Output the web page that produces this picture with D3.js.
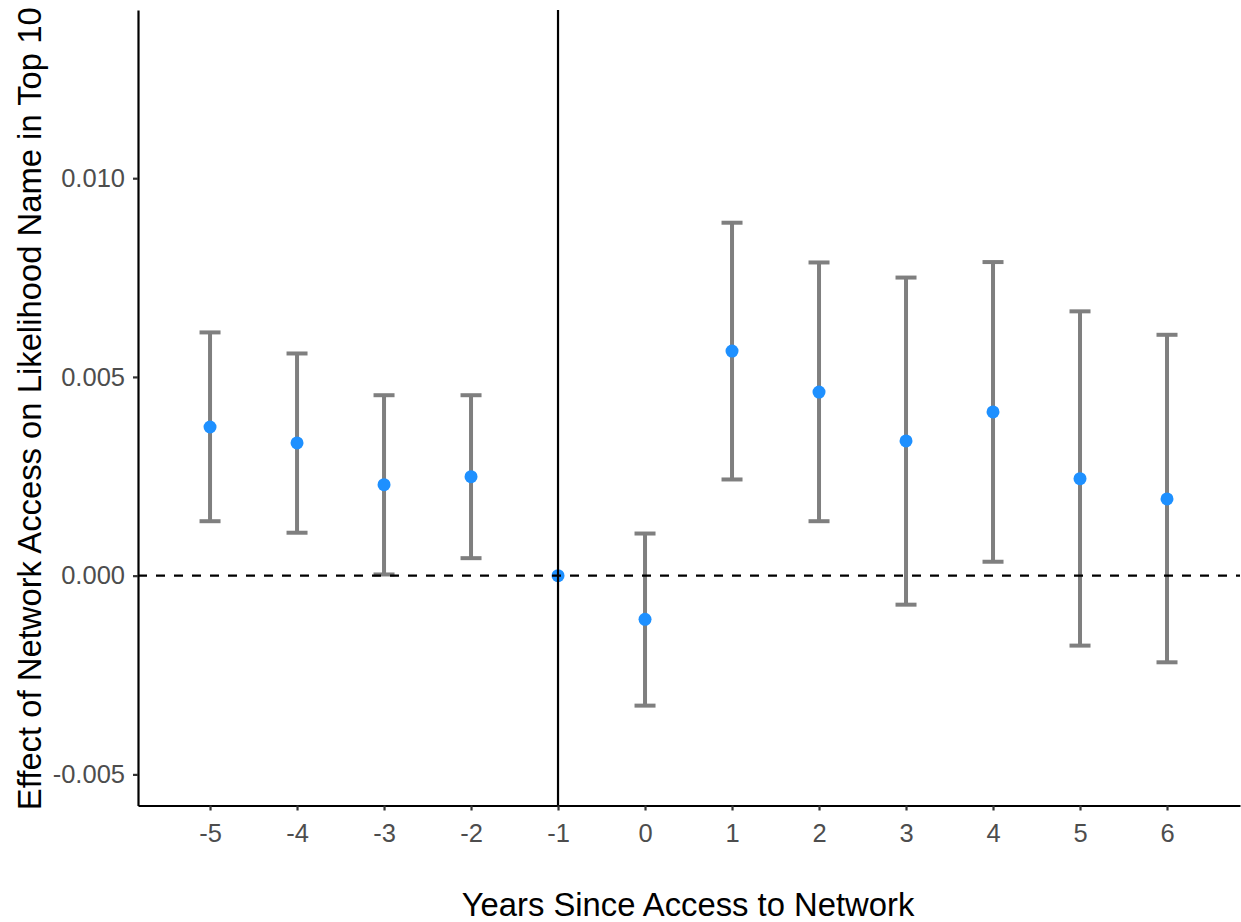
<!DOCTYPE html>
<html>
<head>
<meta charset="utf-8">
<script src="https://cdn.jsdelivr.net/npm/d3@7"></script>
<style>
  html, body { margin: 0; padding: 0; background: #ffffff; }
  svg { display: block; font-family: "Liberation Sans", Arial, Helvetica, sans-serif; }
</style>
</head>
<body>
<svg id="chart" width="1241" height="922"></svg>
<script>
// ---- data ----
const years = [-5, -4, -3, -2, -1, 0, 1, 2, 3, 4, 5, 6];
const estimates = [0.00374, 0.00334, 0.00229, 0.00249, 0, -0.00110, 0.00565, 0.00462, 0.00339, 0.00412, 0.00244, 0.00193];
const lower = [0.00137, 0.00108, 0.00003, 0.00044, 0, -0.00327, 0.00242, 0.00137, -0.00073, 0.00035, -0.00176, -0.00218];
const upper = [0.00612, 0.00559, 0.00454, 0.00454, 0, 0.00106, 0.00888, 0.00788, 0.00750, 0.00789, 0.00665, 0.00606];
const yTickValues = [-0.005, 0, 0.005, 0.010];
const yTickLabels = ["-0.005", "0.000", "0.005", "0.010"];
const xTickValues = years;
const xTickLabels = ["-5", "-4", "-3", "-2", "-1", "0", "1", "2", "3", "4", "5", "6"];
const xTitle = "Years Since Access to Network";
const yTitle = "Effect of Network Access on Likelihood Name in Top 10";
const eventYear = -1;

// ---- layout ----
const svg = d3.select("#chart");
const L = 138, R = 1240, T = 10, B = 805.5;

const x = d3.scaleLinear().domain([-5.828, 6.839]).range([L, R]);
const y = d3.scaleLinear().domain([-0.005783, 0.014232]).range([B, T]);

const data = years.map((yr, i) => ({ yr, est: estimates[i], lo: lower[i], hi: upper[i] }));

// error bars
const capHalf = 10.5;
const eb = svg.append("g");
data.filter(d => d.hi !== d.lo).forEach(d => {
  const cx = x(d.yr);
  eb.append("line").attr("x1", cx).attr("x2", cx).attr("y1", y(d.hi)).attr("y2", y(d.lo))
    .attr("stroke", "#7f7f7f").attr("stroke-width", 4);
  eb.append("line").attr("x1", cx - capHalf).attr("x2", cx + capHalf).attr("y1", y(d.hi)).attr("y2", y(d.hi))
    .attr("stroke", "#7f7f7f").attr("stroke-width", 4);
  eb.append("line").attr("x1", cx - capHalf).attr("x2", cx + capHalf).attr("y1", y(d.lo)).attr("y2", y(d.lo))
    .attr("stroke", "#7f7f7f").attr("stroke-width", 4);
});

// points
svg.append("g").selectAll("circle").data(data).join("circle")
  .attr("cx", d => x(d.yr)).attr("cy", d => y(d.est)).attr("r", 6.5)
  .attr("fill", "#1E90FF");

// reference lines
svg.append("line").attr("x1", L).attr("x2", R).attr("y1", y(0)).attr("y2", y(0))
  .attr("stroke", "#000").attr("stroke-width", 2.2).attr("stroke-dasharray", "9,9");
svg.append("line").attr("x1", x(eventYear)).attr("x2", x(eventYear)).attr("y1", T).attr("y2", B)
  .attr("stroke", "#000").attr("stroke-width", 2.2);

// axes
const yAxis = d3.axisLeft(y).tickValues(yTickValues)
  .tickFormat((d, i) => yTickLabels[i]).tickSize(5).tickSizeOuter(0).tickPadding(8);
const gy = svg.append("g").attr("transform", `translate(${L},0)`).call(yAxis);

const xAxis = d3.axisBottom(x).tickValues(xTickValues)
  .tickFormat((d, i) => xTickLabels[i]).tickSize(5).tickSizeOuter(0).tickPadding(13);
const gx = svg.append("g").attr("transform", `translate(0,${B})`).call(xAxis);

[gx, gy].forEach(g => {
  g.select(".domain").attr("stroke", "#000").attr("stroke-width", 2.2);
  g.selectAll(".tick line").attr("stroke", "#333").attr("stroke-width", 2.2);
  g.selectAll(".tick text").attr("fill", "#4d4d4d").style("font-size", "25.5px")
    .style("font-family", "'Liberation Sans', Arial, Helvetica, sans-serif");
});

// titles
svg.append("text").attr("x", (L + R) / 2 - 1).attr("y", 916)
  .attr("text-anchor", "middle").style("font-size", "32.8px").attr("fill", "#000")
  .text(xTitle);
svg.append("text").attr("transform", `translate(41,${(T + B) / 2 + 1}) rotate(-90)`)
  .attr("text-anchor", "middle").style("font-size", "32.8px").attr("fill", "#000")
  .text(yTitle);
</script>
</body>
</html>
